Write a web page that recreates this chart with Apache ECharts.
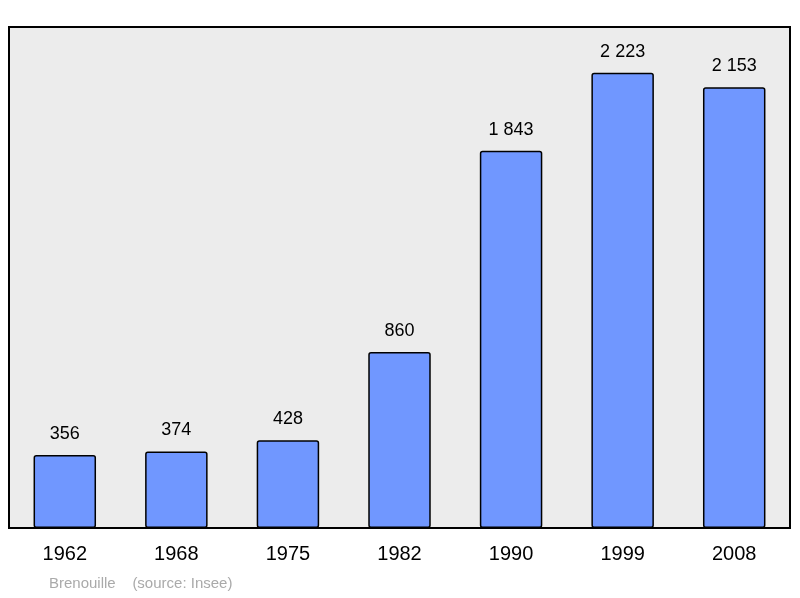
<!DOCTYPE html>
<html><head><meta charset="utf-8">
<script src="https://cdn.jsdelivr.net/npm/echarts@6/dist/echarts.min.js"></script>
<style>html,body{margin:0;padding:0;background:#fff}#c{width:800px;height:598px}</style>
</head><body><div id="c"></div>
<script>
const years = ['1962','1968','1975','1982','1990','1999','2008'];
const population = [356,374,428,860,1843,2223,2153];
const fmt = v => String(v).replace(/\B(?=(\d{3})+(?!\d))/g, ' ');
const chart = echarts.init(document.getElementById('c'));
chart.setOption({
  animation:false,
  grid:{left:9,right:10,top:27,bottom:70,show:true,backgroundColor:'#ececec',borderColor:'#000',borderWidth:2},
  xAxis:{type:'category',data:years,axisLine:{show:false},axisTick:{show:false},
    axisLabel:{fontFamily:'Liberation Sans',fontSize:20,color:'#000',margin:16}},
  yAxis:{type:'value',min:0,max:2447,show:false,splitLine:{show:false}},
  graphic:[{type:'text',left:49,top:576,style:{text:'Brenouille    (source: Insee)',fill:'#aaa',font:'15px Liberation Sans'}}],
  series:[{type:'bar',data:population,barWidth:'56%',
    itemStyle:{color:'#7097ff',borderColor:'#000',borderWidth:1.5,borderRadius:2},
    label:{show:true,position:'top',distance:12,fontFamily:'Liberation Sans',fontSize:18,color:'#000',formatter:p=>fmt(p.value)}}]
});
</script></body></html>
